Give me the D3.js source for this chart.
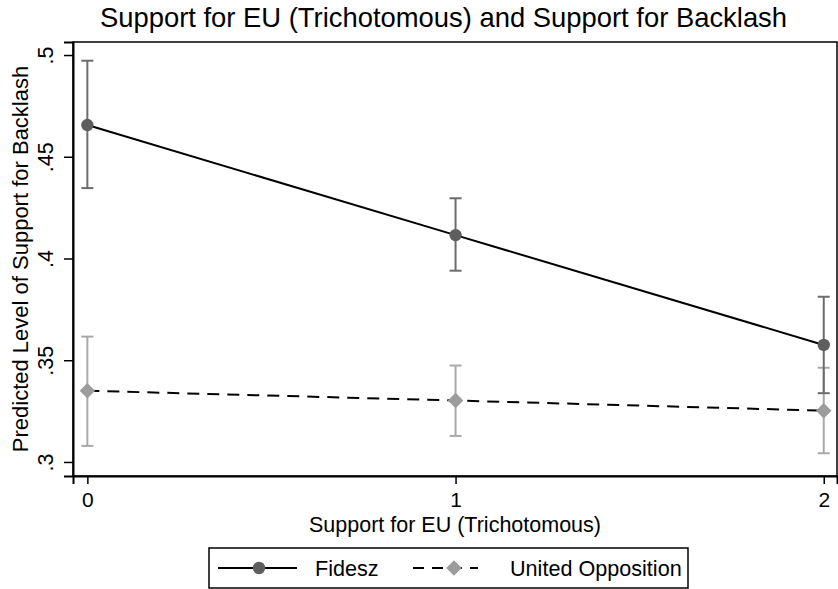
<!DOCTYPE html>
<html>
<head>
<meta charset="utf-8">
<script src="https://cdn.jsdelivr.net/npm/d3@7"></script>
<style>
  html, body { margin: 0; padding: 0; background: #fff; }
  svg { display: block; font-family: "Liberation Sans", Arial, Helvetica, sans-serif; }
</style>
</head>
<body>
<svg id="chart" width="838" height="589"></svg>
<script>
// Predicted margins with 95% confidence intervals
const categories = [0, 1, 2];
const fideszMean  = [0.4656, 0.4115, 0.3575];
const fideszLow   = [0.4346, 0.3940, 0.3338];
const fideszHigh  = [0.4972, 0.4296, 0.3812];
const oppMean     = [0.3350, 0.3302, 0.3252];
const oppLow      = [0.3079, 0.3128, 0.3043];
const oppHigh     = [0.3616, 0.3474, 0.3463];
const yTicks = [0.3, 0.35, 0.4, 0.45, 0.5];
const yTickLabels = [".3", ".35", ".4", ".45", ".5"];
const seriesNames = ["Fidesz", "United Opposition"];

const FONT = "Liberation Sans, Arial, sans-serif";
const svg = d3.select("#chart");
const plot = { left: 73, right: 837, top: 42, bottom: 476 };

const x = d3.scaleLinear().domain([-0.039, 2.036]).range([plot.left, plot.right]);
const y = d3.scaleLinear().domain([0.2931, 0.5064]).range([plot.bottom, plot.top]);

// Title
svg.append("text")
  .attr("x", 443.5).attr("y", 27)
  .attr("text-anchor", "middle")
  .attr("font-size", 27.4)
  .text("Support for EU (Trichotomous) and Support for Backlash");

// Plot frame
svg.append("rect")
  .attr("x", plot.left).attr("y", plot.top)
  .attr("width", plot.right - plot.left).attr("height", plot.bottom - plot.top)
  .attr("fill", "none").attr("stroke", "#000").attr("stroke-width", 1.5);

// Y axis (labels rotated)
const yAxis = svg.append("g").attr("transform", `translate(${plot.left},0)`)
  .call(d3.axisLeft(y).tickValues(yTicks).tickSize(9).tickPadding(0)
    .tickFormat((d, i) => yTickLabels[i]));
yAxis.select(".domain").attr("stroke-width", 2);
yAxis.selectAll(".tick line").attr("stroke-width", 1.5);
yAxis.selectAll(".tick text")
  .attr("font-size", 21.5)
  .attr("font-family", FONT)
  .attr("transform", "rotate(-90)")
  .attr("x", 0).attr("y", -20.5)
  .attr("dy", 0)
  .attr("text-anchor", "middle")
  .attr("fill", "#000");

// X axis
const xAxis = svg.append("g").attr("transform", `translate(0,${plot.bottom})`)
  .call(d3.axisBottom(x).tickValues(categories).tickSize(8).tickPadding(8)
    .tickFormat(d3.format("d")));
xAxis.select(".domain").attr("stroke-width", 2);
xAxis.selectAll(".tick line").attr("stroke-width", 1.5);
xAxis.selectAll(".tick text")
  .attr("font-size", 21)
  .attr("font-family", FONT)
  .attr("fill", "#000");

// Axis titles
svg.append("text")
  .attr("x", 455).attr("y", 531.5)
  .attr("text-anchor", "middle")
  .attr("font-size", 21.5)
  .text("Support for EU (Trichotomous)");

svg.append("text")
  .attr("transform", `translate(28,${(plot.top + plot.bottom) / 2}) rotate(-90)`)
  .attr("text-anchor", "middle")
  .attr("font-size", 22)
  .text("Predicted Level of Support for Backlash");

const g = svg.append("g");

function errorBars(low, high, color) {
  categories.forEach((c, i) => {
    const cx = x(c);
    g.append("line").attr("x1", cx).attr("x2", cx)
      .attr("y1", y(low[i])).attr("y2", y(high[i]))
      .attr("stroke", color).attr("stroke-width", 2);
    [low[i], high[i]].forEach(v => {
      g.append("line").attr("x1", cx - 6).attr("x2", cx + 6)
        .attr("y1", y(v)).attr("y2", y(v))
        .attr("stroke", color).attr("stroke-width", 2);
    });
  });
}

const line = d3.line().x((d, i) => x(categories[i])).y(d => y(d));

// United Opposition (lighter) first, then Fidesz on top
errorBars(oppLow, oppHigh, "#a9a9a9");
errorBars(fideszLow, fideszHigh, "#6c6c6c");

g.append("path").datum(oppMean).attr("d", line)
  .attr("fill", "none").attr("stroke", "#000").attr("stroke-width", 2)
  .attr("stroke-dasharray", "12,8");
g.append("path").datum(fideszMean).attr("d", line)
  .attr("fill", "none").attr("stroke", "#000").attr("stroke-width", 2);

const diamond = d3.symbol().type(d3.symbolSquare).size(120);
g.selectAll(".opp").data(oppMean).enter().append("path")
  .attr("d", diamond())
  .attr("transform", (d, i) => `translate(${x(categories[i])},${y(d)}) rotate(45)`)
  .attr("fill", "#9c9c9c");

g.selectAll(".fid").data(fideszMean).enter().append("circle")
  .attr("cx", (d, i) => x(categories[i])).attr("cy", d => y(d))
  .attr("r", 6.2).attr("fill", "#5e5e5e");

// Legend
const leg = svg.append("g");
leg.append("rect").attr("x", 209).attr("y", 548).attr("width", 479).attr("height", 40)
  .attr("fill", "#fff").attr("stroke", "#000").attr("stroke-width", 1.5);

leg.append("line").attr("x1", 218).attr("x2", 297).attr("y1", 568).attr("y2", 568)
  .attr("stroke", "#000").attr("stroke-width", 2);
leg.append("circle").attr("cx", 259).attr("cy", 568).attr("r", 6.2).attr("fill", "#5e5e5e");
leg.append("text").attr("x", 315).attr("y", 576).attr("font-size", 21.6).text(seriesNames[0]);

leg.append("line").attr("x1", 413).attr("x2", 478).attr("y1", 568).attr("y2", 568)
  .attr("stroke", "#000").attr("stroke-width", 2).attr("stroke-dasharray", "11,8");
leg.append("path").attr("d", diamond())
  .attr("transform", "translate(454,568) rotate(45)").attr("fill", "#9c9c9c");
leg.append("text").attr("x", 510).attr("y", 576).attr("font-size", 21.6).text(seriesNames[1]);
</script>
</body>
</html>
